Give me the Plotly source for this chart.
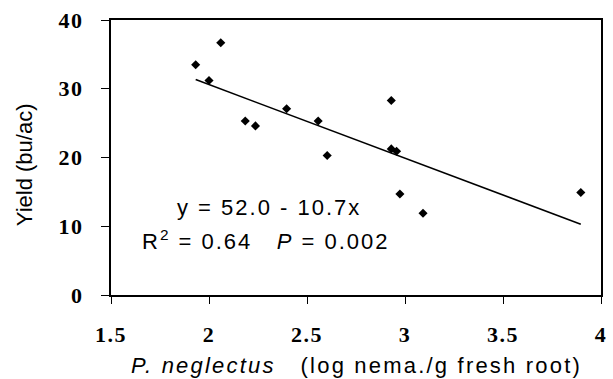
import plotly.graph_objects as go

x_vals = [1.932, 2.00, 2.06, 2.185, 2.237, 2.396, 2.557, 2.603, 2.93, 2.93, 2.957, 2.974, 3.092, 3.897]
y_vals = [33.5, 31.2, 36.7, 25.3, 24.6, 27.1, 25.3, 20.3, 28.3, 21.25, 20.9, 14.7, 11.9, 14.9]
intercept = 52.0
slope = -10.7
x_ticks = [1.5, 2, 2.5, 3, 3.5, 4]
x_tick_text = ["1.5", "2", "2.5", "3", "3.5", "4"]
y_ticks = [0, 10, 20, 30, 40]
y_tick_text = ["0", "10", "20", "30", "40"]

fit_x = [min(x_vals), max(x_vals)]
fit_y = [intercept + slope * v for v in fit_x]

def sp(t, ls):
    return '<span style="letter-spacing:%spx">%s</span>' % (ls, t)

fig = go.Figure()
fig.add_trace(go.Scatter(x=fit_x, y=fit_y, mode="lines",
                         line=dict(color="black", width=1.6), showlegend=False))
fig.add_trace(go.Scatter(x=x_vals, y=y_vals, mode="markers",
                         marker=dict(symbol="diamond", size=7, color="black"),
                         showlegend=False))

tickfont = dict(family="Liberation Serif, Times New Roman, serif", size=22,
                color="black", weight="bold")
fig.update_xaxes(range=[1.5, 4], tickvals=x_ticks,
                 ticktext=["<b>" + sp(t, 1.5) + "</b>" for t in x_tick_text],
                 tickfont=tickfont, showgrid=False, zeroline=False,
                 showline=True, linecolor="black", linewidth=2, mirror=True,
                 ticks="outside", ticklen=7, tickcolor="black", tickwidth=1,
                 ticklabelstandoff=12)
fig.update_yaxes(range=[0, 40], tickvals=y_ticks,
                 ticktext=["<b>" + sp(t, 1.5) + "</b>" for t in y_tick_text],
                 tickfont=tickfont, showgrid=False, zeroline=False,
                 showline=True, linecolor="black", linewidth=2, mirror=True,
                 ticks="outside", ticklen=8, tickcolor="black", tickwidth=1,
                 ticklabelstandoff=13)

txtfont = dict(family="Liberation Sans, Arial, sans-serif", size=22, color="black")
fig.add_annotation(x=1.825, y=12.8, xref="x", yref="y", xanchor="left", yanchor="middle",
                   text=sp("y = 52.0 - 10.7x", 2), showarrow=False, font=txtfont)
fig.add_annotation(x=1.649, y=8.0, xref="x", yref="y", xanchor="left", yanchor="middle",
                   text=sp("R<sup>2</sup> = 0.64\u00a0\u00a0 <i>P</i> = 0.002", 2),
                   showarrow=False, font=txtfont)

fig.add_annotation(x=0.5, y=-0.258, xref="paper", yref="paper", yanchor="middle",
                   text=sp("<i>P. neglectus</i>\u00a0\u00a0 (log nema./g fresh root)", 2.2),
                   showarrow=False, font=txtfont)
fig.add_annotation(x=-0.175, y=0.473, xref="paper", yref="paper", textangle=-90,
                   xanchor="center", yanchor="middle",
                   text="Yield (bu/ac)", showarrow=False, font=txtfont)

fig.update_layout(width=613, height=379, margin=dict(l=111, r=6, t=20, b=84),
                  plot_bgcolor="white", paper_bgcolor="white")
fig.write_html("out.html")
